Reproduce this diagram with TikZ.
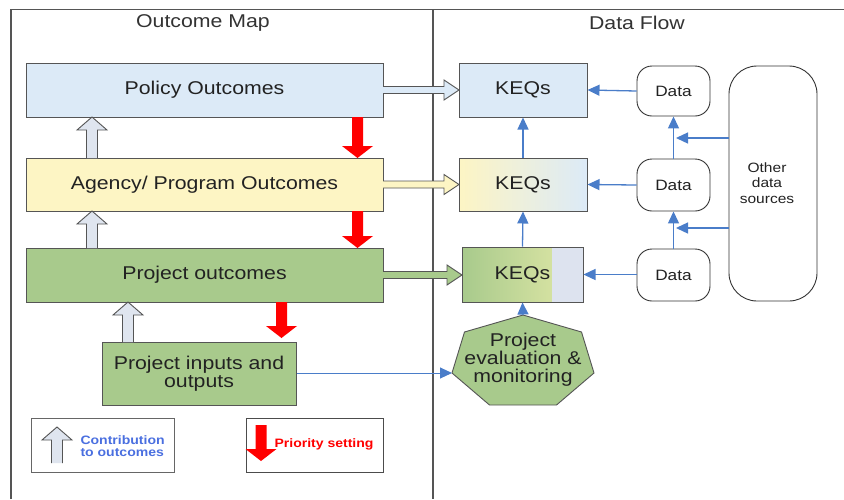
\documentclass[tikz,border=0pt]{standalone}
\usepackage{fontspec}
\setmainfont{Liberation Sans}[FakeStretch=1.15]
\usetikzlibrary{arrows.meta,calc}
\definecolor{frame}{HTML}{555555}
\definecolor{polfill}{HTML}{DCEAF7}
\definecolor{agyfill}{HTML}{FDF5C4}
\definecolor{prjfill}{HTML}{A8CA8C}
\definecolor{prjlight}{HTML}{E3E9A8}
\definecolor{strip}{HTML}{DDE3EF}
\definecolor{contrib}{HTML}{DFE5EF}
\definecolor{flow}{HTML}{4A7DC9}
\definecolor{txt}{HTML}{222222}
\definecolor{legblue}{HTML}{4A6FE0}
\definecolor{prio}{HTML}{FF0000}
\newcommand\blkup[4]{%
  \draw[#4] (#1-5.5,#2) -- (#1-5.5,#3+13) -- (#1-15,#3+13) -- (#1,#3) -- (#1+15,#3+13) -- (#1+5.5,#3+13) -- (#1+5.5,#2);}
\newcommand\blkdown[4]{%
  \fill[#4] (#1-5.5,#2) -- (#1-5.5,#3-12) -- (#1-15.5,#3-12) -- (#1,#3) -- (#1+15.5,#3-12) -- (#1+5.5,#3-12) -- (#1+5.5,#2) -- cycle;}
\newcommand\blkright[4]{%
  \draw[#4] (#2,#1-3.5) -- (#3-15,#1-3.5) -- (#3-15,#1-10) -- (#3,#1) -- (#3-15,#1+10) -- (#3-15,#1+3.5) -- (#2,#1+3.5);}
\begin{document}
\begin{tikzpicture}[x=1pt,y=-1pt,
  big/.style={font=\fontsize{18.5}{18}\selectfont, text=txt},
  box/.style={draw=frame, line width=1pt, inner sep=0pt, big, align=center},
  datbox/.style={draw=black!80, line width=0.9pt, rounded corners=15pt, fill=white, inner sep=0pt,
     minimum width=73pt, font=\fontsize{15}{15}\selectfont, text=txt},
  flowarr/.style={draw=flow, line width=1.3pt, -{Triangle[length=12pt,width=11pt]}},
  hollow/.style={draw=frame, line width=0.9pt, fill=contrib},
  legtxt/.style={font=\bfseries\fontsize{12.2}{12}\selectfont, align=left, anchor=west}
]
\useasboundingbox (0,0) rectangle (844,499);
\fill[white] (0,0) rectangle (844,499);
% frame
\draw[frame, line width=1.2pt] (11,499) -- (11,9.5) -- (844,9.5);
\draw[frame, line width=1.2pt] (433,9.5) -- (433,499);
\node[font=\fontsize{18.5}{18}\selectfont, text=black!80] (t1) at (203,23) {Outcome Map};
\node[font=\fontsize{18.5}{18}\selectfont, text=black!80] (t2) at (637,23) {Data Flow};

% outcome boxes
\node[box, fill=polfill, minimum width=357pt, minimum height=54pt] (pol) at (204.5,90) {Policy Outcomes};
\node[box, fill=agyfill, minimum width=357pt, minimum height=53pt] (agy) at (204.5,184.5) {Agency/ Program Outcomes};
\node[box, fill=prjfill, minimum width=357pt, minimum height=54pt] (prj) at (204.5,275) {Project outcomes};
\node[box, fill=prjfill, minimum width=194pt, minimum height=63pt] (pio) at (199,373.5) {Project inputs and\\outputs};

% KEQs
\node[box, fill=polfill, minimum width=128pt, minimum height=54pt] (keq1) at (523,90) {KEQs};
\node[box, left color=agyfill, right color=polfill, minimum width=128pt, minimum height=53pt] (keq2) at (523,184.5) {KEQs};
\node[box, minimum width=121pt, minimum height=55pt,
  path picture={
    \shade[left color=prjfill, right color=prjlight] (path picture bounding box.north west) rectangle ([xshift=-31pt]path picture bounding box.south east);
    \fill[strip] ([xshift=-31pt]path picture bounding box.north east) rectangle (path picture bounding box.south east);
  }] (keq3) at (522.5,274.5) {KEQs};

% data
\node[datbox, minimum height=50pt] (dat1) at (673.5,91) {Data};
\node[datbox, minimum height=52pt] (dat2) at (673.5,185) {Data};
\node[datbox, minimum height=52pt] (dat3) at (673.5,275) {Data};
\node[draw=black!80, line width=0.9pt, rounded corners=28pt, minimum width=88pt, minimum height=235pt, inner sep=0pt] (ods) at (773,183.5) {};
\node[font=\fontsize{13.5}{15.5}\selectfont, text=txt, align=center] (odst) at (767,183) {Other\\data\\sources};

% heptagon
\coordinate (hT) at (523,315);
\coordinate (hUR) at (581.5,332);
\coordinate (hR) at (594,373);
\coordinate (hLR) at (556.5,405);
\coordinate (hLL) at (489.5,405);
\coordinate (hL) at (452,373);
\coordinate (hUL) at (464.5,332);
\draw[draw=frame, line width=0.9pt, fill=prjfill] (hT) -- (hUR) -- (hR) -- (hLR) -- (hLL) -- (hL) -- (hUL) -- cycle;
\node[big, align=center] (pem) at (523,360) {Project\\evaluation \&\\monitoring};

% contribution arrows
\blkup{92}{158}{117}{hollow}
\blkup{92}{248}{211}{hollow}
\blkup{128}{342}{302}{hollow}
% priority arrows
\blkdown{357.5}{117}{158}{prio}
\blkdown{357.5}{211}{248}{prio}
\blkdown{281.5}{302}{338}{prio}
% outcome -> KEQs
\blkright{90}{383}{459}{draw=frame, line width=0.9pt, fill=polfill}
\blkright{184.5}{383}{459}{draw=frame, line width=0.9pt, fill=agyfill}
\blkright{275}{383}{462}{draw=frame, line width=0.9pt, fill=prjfill}

% data flow arrows
\draw[flowarr] (dat1.west) -- (keq1.east);
\draw[flowarr] (dat2.west) -- (keq2.east);
\draw[flowarr] (dat3.west |- keq3.east) -- (keq3.east);
\draw[flowarr] (keq2.north) -- (keq1.south);
\draw[flowarr] (keq3.north) -- (keq2.south);
\draw[flowarr] (dat2.north) -- (dat1.south);
\draw[flowarr] (dat3.north) -- (dat2.south);
\coordinate (o1) at (676,138);
\coordinate (o2) at (676,228);
\draw[flowarr] (ods.west |- o1) -- (o1);
\draw[flowarr] (ods.west |- o2) -- (o2);
\draw[flowarr] (hT) -- (keq3.south);
\draw[flowarr, line width=1pt] (pio.east |- hL) -- (hL);

% legend
\node[draw=black!60, line width=1pt, minimum width=143pt, minimum height=54pt, inner sep=0pt] (leg1) at (102.5,445) {};
\blkup{57}{463}{427}{hollow}
\node[legtxt, text=legblue] (leg1t) at (77,446) {Contribution\\to outcomes};
\node[draw=black!70, line width=1pt, minimum width=137pt, minimum height=54pt, inner sep=0pt] (leg2) at (314.5,445) {};
\blkdown{261}{425}{461}{prio}
\node[legtxt, text=prio] (leg2t) at (271,444) {Priority setting};
\end{tikzpicture}
\end{document}
